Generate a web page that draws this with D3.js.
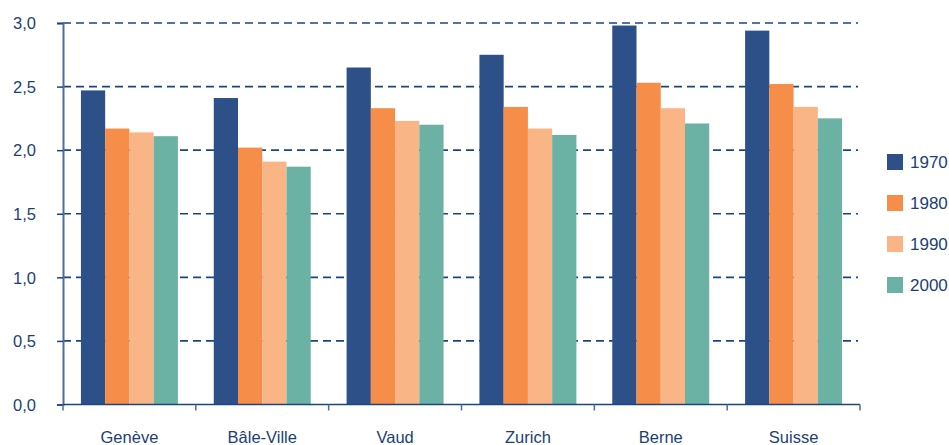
<!DOCTYPE html>
<html>
<head>
<meta charset="utf-8">
<script src="https://cdn.jsdelivr.net/npm/d3@7"></script>
<style>
  body { margin: 0; background: #fff; }
  svg { display: block; font-family: "Liberation Sans", Arial, sans-serif; }
</style>
</head>
<body>
<svg id="chart" width="949" height="445"></svg>
<script>
// categories and series
const regions = ['Genève', 'Bâle-Ville', 'Vaud', 'Zurich', 'Berne', 'Suisse'];
const years = ['1970', '1980', '1990', '2000'];
const v1970 = [2.47, 2.41, 2.65, 2.75, 2.98, 2.94];
const v1980 = [2.17, 2.02, 2.33, 2.34, 2.53, 2.52];
const v1990 = [2.14, 1.91, 2.23, 2.17, 2.33, 2.34];
const v2000 = [2.11, 1.87, 2.20, 2.12, 2.21, 2.25];
const yTicks = [0, 0.5, 1, 1.5, 2, 2.5, 3];

const series = [v1970, v1980, v1990, v2000];
const colors = ['#2d5088', '#f68d48', '#f9b585', '#6bb2a4'];
const textColor = '#1c3f74';

const svg = d3.select('#chart');
const margin = { left: 63, right: 89, top: 23, bottom: 40.5 };
const width = 949, height = 445;

// x scale: one band per region, inner band per year
const x = d3.scaleBand()
  .domain(regions)
  .range([margin.left, width - margin.right])
  .paddingInner(0)
  .paddingOuter(0);

const x1 = d3.scaleBand()
  .domain(years)
  .range([x.bandwidth() * 0.135, x.bandwidth() * 0.865]);

const y = d3.scaleLinear()
  .domain([0, 3])
  .range([height - margin.bottom, margin.top]);

// dashed gridlines behind the bars
svg.append('g')
  .selectAll('line')
  .data(yTicks.filter(d => d > 0))
  .join('line')
    .attr('x1', margin.left)
    .attr('x2', width - margin.right - 2)
    .attr('y1', d => y(d))
    .attr('y2', d => y(d))
    .attr('stroke', '#1b4582')
    .attr('stroke-width', 1.6)
    .attr('stroke-dasharray', '8,5');

// bars
const groups = svg.append('g')
  .selectAll('g')
  .data(regions)
  .join('g')
    .attr('transform', d => `translate(${x(d)},0)`);

groups.selectAll('rect')
  .data((d, i) => years.map((yr, j) => ({ yr, value: series[j][i], color: colors[j] })))
  .join('rect')
    .attr('x', d => x1(d.yr))
    .attr('width', x1.bandwidth())
    .attr('y', d => y(d.value))
    .attr('height', d => y(0) - y(d.value))
    .attr('fill', d => d.color);

// y axis
const yAxis = svg.append('g')
  .attr('transform', `translate(${margin.left},0)`)
  .call(d3.axisLeft(y).tickValues(yTicks).tickSize(6).tickPadding(21)
    .tickFormat(d => d3.format('.1f')(d).replace('.', ',')));
yAxis.select('.domain').attr('stroke', '#4c6e9b').attr('stroke-width', 2);
yAxis.selectAll('.tick line').attr('stroke', '#1b4582').attr('stroke-width', 1.5);
yAxis.selectAll('text')
  .attr('fill', textColor)
  .attr('font-size', 16.5)
  .attr('dy', '0.35em');

// x axis: ticks at group boundaries
const xAxis = svg.append('g')
  .attr('transform', `translate(0,${y(0)})`);
xAxis.append('line')
  .attr('x1', margin.left)
  .attr('x2', width - margin.right)
  .attr('stroke', '#1b4582')
  .attr('stroke-width', 1.5);
xAxis.selectAll('line.sep')
  .data(regions.map(d => x(d)).concat([x(regions[regions.length - 1]) + x.bandwidth()]))
  .join('line')
    .attr('class', 'sep')
    .attr('x1', d => d).attr('x2', d => d)
    .attr('y1', 0).attr('y2', 6)
    .attr('stroke', '#4c6e9b')
    .attr('stroke-width', 1.5);
xAxis.selectAll('text')
  .data(regions)
  .join('text')
    .attr('x', d => x(d) + x.bandwidth() / 2)
    .attr('y', 38)
    .attr('text-anchor', 'middle')
    .attr('fill', textColor)
    .attr('font-size', 16.5)
    .text(d => d);

// legend
const legend = svg.append('g')
  .attr('transform', 'translate(887,154)');
const li = legend.selectAll('g')
  .data(years)
  .join('g')
    .attr('transform', (d, i) => `translate(0,${i * 41})`);
li.append('rect')
  .attr('width', 16)
  .attr('height', 16)
  .attr('fill', (d, i) => colors[i]);
li.append('text')
  .attr('x', 23)
  .attr('y', 8)
  .attr('dy', '0.35em')
  .attr('fill', textColor)
  .attr('font-size', 17)
  .text(d => d);
</script>
</body>
</html>
